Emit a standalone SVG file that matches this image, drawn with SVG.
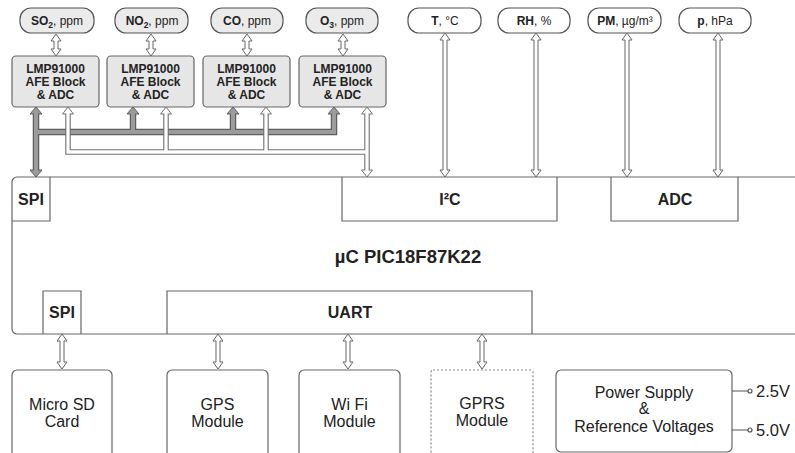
<svg xmlns="http://www.w3.org/2000/svg" xmlns:xlink="http://www.w3.org/1999/xlink" width="795" height="453" viewBox="0 0 795 453">
<style>
text{font-family:"Liberation Sans",Arial,sans-serif;fill:#222}
.pillg{fill:#ebebeb;stroke:#555;stroke-width:1.2}
.pillw{fill:#fff;stroke:#555;stroke-width:1.2}
.afe{fill:#e6e6e6;stroke:#666;stroke-width:1.2}
.box{fill:#fff;stroke:#666;stroke-width:1.2}
.sub{fill:none;stroke:#666;stroke-width:1.2}
.dash{fill:#fff;stroke:#888;stroke-width:1.2;stroke-dasharray:2 2}
.ha{fill:#fff;stroke:#666;stroke-width:1}
.pt{font-size:12px}
.at{font-size:12px;font-weight:bold;text-anchor:middle}
.bt{font-size:16px;font-weight:bold;text-anchor:middle}
.rt{font-size:16px;text-anchor:middle}
.gout{fill:none;stroke:#5e5e5e;stroke-width:6.5}
.gin{fill:none;stroke:#9c9c9c;stroke-width:4}
.ghead{fill:#9c9c9c;stroke:#5e5e5e;stroke-width:1}
.hout{fill:none;stroke:#707070;stroke-width:5.5}
.hin{fill:none;stroke:#fff;stroke-width:3.3}
.hhead{fill:#fff;stroke:#707070;stroke-width:1}
</style>
<defs>
<path id="aS" d="M0 0 L5 7 L2 7 L2 15 L5 15 L0 22 L-5 15 L-2 15 L-2 7 L-5 7 Z"/>
<path id="aL" d="M0 0 L5 7 L2 7 L2 137 L5 137 L0 144 L-5 137 L-2 137 L-2 7 L-5 7 Z"/>
<path id="aB" d="M0 0 L5 7 L2 7 L2 28 L5 28 L0 35 L-5 28 L-2 28 L-2 7 L-5 7 Z"/>
</defs>

<g id="mcu">
<rect class="box" x="12" y="177" width="800" height="157" rx="5"/>
<text x="408" y="263" text-anchor="middle" font-size="18.5" font-weight="bold">µC PIC18F87K22</text>
</g>
<g id="spi-top"><path class="sub" d="M12 221 H50 V177"/><text class="bt" x="31" y="205">SPI</text></g>
<g id="i2c"><path class="sub" d="M342 177 V221 H557 V177"/><text class="bt" x="450" y="205">I²C</text></g>
<g id="adc"><path class="sub" d="M611 177 V221 H738 V177"/><text class="bt" x="675" y="205">ADC</text></g>
<g id="spi-bot"><path class="sub" d="M43 334 V291 H81 V334"/><text class="bt" x="62" y="318">SPI</text></g>
<g id="uart"><path class="sub" d="M167 334 V291 H532 V334"/><text class="bt" x="350" y="318">UART</text></g>

<g id="so2"><rect class="pillg" x="20" y="8" width="74" height="25" rx="11"/><text class="pt" x="57" y="25" text-anchor="middle"><tspan font-weight="bold">SO</tspan><tspan font-weight="bold" font-size="8.5" dy="3">2</tspan><tspan dy="-3">, ppm</tspan></text></g>
<g id="no2"><rect class="pillg" x="115" y="8" width="73" height="25" rx="11"/><text class="pt" x="152" y="25" text-anchor="middle"><tspan font-weight="bold">NO</tspan><tspan font-weight="bold" font-size="8.5" dy="3">2</tspan><tspan dy="-3">, ppm</tspan></text></g>
<g id="co"><rect class="pillg" x="211" y="8" width="72" height="25" rx="11"/><text class="pt" x="247" y="25" text-anchor="middle"><tspan font-weight="bold">CO</tspan>, ppm</text></g>
<g id="o3"><rect class="pillg" x="306" y="8" width="72" height="25" rx="11"/><text class="pt" x="342" y="25" text-anchor="middle"><tspan font-weight="bold">O</tspan><tspan font-weight="bold" font-size="8.5" dy="3">3</tspan><tspan dy="-3">, ppm</tspan></text></g>

<g id="t"><rect class="pillw" x="408" y="8" width="73" height="25" rx="11"/><text class="pt" x="445" y="25" text-anchor="middle"><tspan font-weight="bold">T</tspan>, °C</text></g>
<g id="rh"><rect class="pillw" x="498" y="8" width="72" height="25" rx="11"/><text class="pt" x="534" y="25" text-anchor="middle"><tspan font-weight="bold">RH</tspan>, %</text></g>
<g id="pm"><rect class="pillw" x="588" y="8" width="73" height="25" rx="11"/><text class="pt" x="625" y="25" text-anchor="middle"><tspan font-weight="bold">PM</tspan>, µg/m³</text></g>
<g id="p"><rect class="pillw" x="679" y="8" width="72" height="25" rx="11"/><text class="pt" x="715" y="25" text-anchor="middle"><tspan font-weight="bold">p</tspan>, hPa</text></g>

<g id="afe1"><rect class="afe" x="12" y="56" width="87" height="51" rx="4"/><text class="at" x="55.5" y="73">LMP91000</text><text class="at" x="55.5" y="86">AFE Block</text><text class="at" x="55.5" y="99">&amp; ADC</text></g>
<g id="afe2"><rect class="afe" x="107" y="56" width="87" height="51" rx="4"/><text class="at" x="150.5" y="73">LMP91000</text><text class="at" x="150.5" y="86">AFE Block</text><text class="at" x="150.5" y="99">&amp; ADC</text></g>
<g id="afe3"><rect class="afe" x="203" y="56" width="87" height="51" rx="4"/><text class="at" x="246.5" y="73">LMP91000</text><text class="at" x="246.5" y="86">AFE Block</text><text class="at" x="246.5" y="99">&amp; ADC</text></g>
<g id="afe4"><rect class="afe" x="299" y="56" width="87" height="51" rx="4"/><text class="at" x="342.5" y="73">LMP91000</text><text class="at" x="342.5" y="86">AFE Block</text><text class="at" x="342.5" y="99">&amp; ADC</text></g>

<g id="sd"><rect class="box" x="12" y="370" width="100" height="90" rx="5"/><text class="rt" x="62" y="410">Micro SD</text><text class="rt" x="62" y="427">Card</text></g>
<g id="gps"><rect class="box" x="167" y="370" width="101" height="90" rx="5"/><text class="rt" x="217.5" y="410">GPS</text><text class="rt" x="217.5" y="427">Module</text></g>
<g id="wifi"><rect class="box" x="299" y="370" width="101" height="90" rx="5"/><text class="rt" x="349.5" y="410">Wi Fi</text><text class="rt" x="349.5" y="427">Module</text></g>
<g id="gprs"><rect class="dash" x="431" y="370" width="102" height="90" rx="2"/><text class="rt" x="482" y="409">GPRS</text><text class="rt" x="482" y="426">Module</text></g>
<g id="power"><rect class="box" x="556" y="370" width="176" height="82" rx="5"/><text class="rt" x="644" y="398">Power Supply</text><text class="rt" x="644" y="414">&amp;</text><text class="rt" x="644" y="432">Reference Voltages</text>
<path d="M732 391 H748 M732 430 H748" stroke="#555" stroke-width="1.2"/>
<circle cx="750" cy="391" r="2" fill="#fff" stroke="#555" stroke-width="1.2"/>
<circle cx="750" cy="430" r="2" fill="#fff" stroke="#555" stroke-width="1.2"/>
<text x="756" y="397" font-size="16.5">2.5V</text><text x="756" y="436" font-size="16.5">5.0V</text></g>

<g id="connectors">
<use xlink:href="#aS" class="ha" x="56" y="34"/>
<use xlink:href="#aS" class="ha" x="151" y="34"/>
<use xlink:href="#aS" class="ha" x="247" y="34"/>
<use xlink:href="#aS" class="ha" x="343" y="34"/>
<use xlink:href="#aL" class="ha" x="445" y="33"/>
<use xlink:href="#aL" class="ha" x="536" y="33"/>
<use xlink:href="#aL" class="ha" x="627" y="33"/>
<use xlink:href="#aL" class="ha" x="718" y="33"/>
<use xlink:href="#aB" class="ha" x="62" y="334"/>
<use xlink:href="#aB" class="ha" x="218" y="334"/>
<use xlink:href="#aB" class="ha" x="348" y="334"/>
<use xlink:href="#aB" class="ha" x="482" y="334"/>
<!-- gray SPI bus -->
<path class="gout" d="M36 114 V170 M36 132 H334 V114 M133 132 V114 M233 132 V114"/>
<polygon class="ghead" points="36,107 42,114 30,114"/>
<polygon class="ghead" points="36,177 42,170 30,170"/>
<polygon class="ghead" points="133,107 139,114 127,114"/>
<polygon class="ghead" points="233,107 239,114 227,114"/>
<polygon class="ghead" points="334,107 340,114 328,114"/>
<path class="gin" d="M36 113 V171 M36 132 H334 V113 M133 132 V113 M233 132 V113"/>
<!-- hollow I2C bus -->
<path class="hout" d="M68 114 V152 H367 M166 152 V114 M266 152 V114 M367 114 V170"/>
<polygon class="hhead" points="68,107 73.5,114 62.5,114"/>
<polygon class="hhead" points="166,107 171.5,114 160.5,114"/>
<polygon class="hhead" points="266,107 271.5,114 260.5,114"/>
<polygon class="hhead" points="367,107 372.5,114 361.5,114"/>
<polygon class="hhead" points="367,177 372.5,170 361.5,170"/>
<path class="hin" d="M68 113 V152 H367 M166 152 V113 M266 152 V113 M367 113 V171"/>
</g>
</svg>
